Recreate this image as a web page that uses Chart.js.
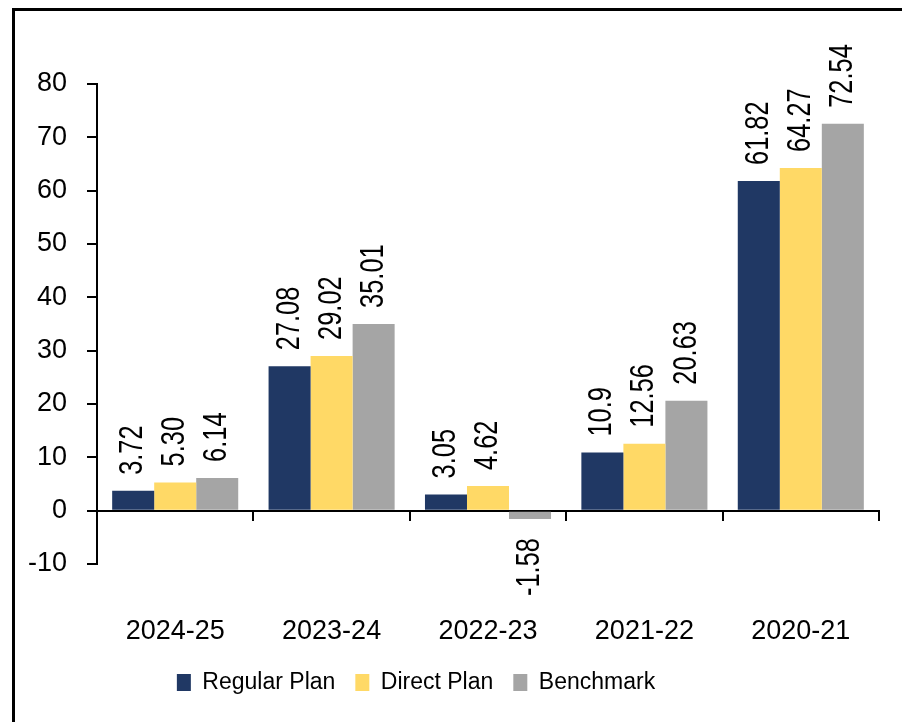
<!DOCTYPE html>
<html>
<head>
<meta charset="utf-8">
<script src="https://cdn.jsdelivr.net/npm/chart.js@4"></script>
<style>
  body { margin: 0; background: #fff; }
  #wrap { position: relative; width: 902px; height: 722px; overflow: hidden; }
  #frame { position: absolute; left: 12px; top: 8px; width: 1000px; height: 1000px;
           border-left: 3px solid #000; border-top: 3px solid #000; }
  canvas { position: absolute; left: 0; top: 0; }
</style>
</head>
<body>
<div id="wrap">
  <div id="frame"></div>
  <canvas id="perfChart" width="902" height="722"></canvas>
</div>
<script>
const categories = ["2024-25", "2023-24", "2022-23", "2021-22", "2020-21"];
const regularPlan = [3.72, 27.08, 3.05, 10.9, 61.82];
const directPlan = [5.30, 29.02, 4.62, 12.56, 64.27];
const benchmark = [6.14, 35.01, -1.58, 20.63, 72.54];
const regularText = ["3.72", "27.08", "3.05", "10.9", "61.82"];
const directText = ["5.30", "29.02", "4.62", "12.56", "64.27"];
const benchmarkText = ["6.14", "35.01", "-1.58", "20.63", "72.54"];
const yMin = -10, yMax = 80, yStep = 10;

const fontFamily = "'Liberation Sans', Arial, sans-serif";
Chart.defaults.color = "#000";
Chart.defaults.font.family = fontFamily;

// rotated value labels above (or below) each bar, squeezed to look like a narrow face
const barLabels = {
  id: "barLabels",
  afterDatasetsDraw(chart) {
    const ctx = chart.ctx;
    ctx.save();
    ctx.font = "33px " + fontFamily;
    ctx.fillStyle = "#000";
    ctx.textBaseline = "middle";
    chart.data.datasets.forEach((ds, i) => {
      chart.getDatasetMeta(i).data.forEach((bar, j) => {
        ctx.save();
        if (ds.data[j] >= 0) {
          ctx.translate(bar.x, bar.y - 16);
          ctx.textAlign = "left";
        } else {
          ctx.translate(bar.x, bar.y + 19);
          ctx.textAlign = "right";
        }
        ctx.rotate(-Math.PI / 2);
        ctx.scale(0.77, 1);
        ctx.fillText(ds.valueText[j], 0, 0);
        ctx.restore();
      });
    });
    ctx.restore();
  }
};

const ctx = document.getElementById("perfChart").getContext("2d");
new Chart(ctx, {
  type: "bar",
  data: {
    labels: categories,
    datasets: [
      { label: "Regular Plan", data: regularPlan, valueText: regularText, backgroundColor: "#203864" },
      { label: "Direct Plan", data: directPlan, valueText: directText, backgroundColor: "#FFD966" },
      { label: "Benchmark", data: benchmark, valueText: benchmarkText, backgroundColor: "#A5A5A5" }
    ]
  },
  options: {
    responsive: false,
    devicePixelRatio: 1,
    animation: false,
    categoryPercentage: 0.806,
    barPercentage: 1.0,
    layout: { padding: { top: 84, right: 23, bottom: 18, left: -47 } },
    plugins: {
      tooltip: { enabled: false },
      legend: {
        position: "bottom",
        labels: {
          boxWidth: 14,
          boxHeight: 17,
          padding: 20,
          font: { size: 23 }
        }
      }
    },
    scales: {
      x: {
        grid: { display: false },
        border: { display: false },
        ticks: { font: { size: 27 }, padding: 43, maxRotation: 0 },
        afterFit: s => { s.height = 87; }
      },
      x2: {
        type: "category",
        position: { y: 0 },
        offset: true,
        grid: { offset: true, drawOnChartArea: false, tickLength: 9, color: "#000", lineWidth: 2 },
        border: { color: "#000", width: 2 },
        ticks: { display: false }
      },
      y: {
        min: yMin,
        max: yMax,
        grid: { drawOnChartArea: false, tickLength: 10, color: "#000", lineWidth: 2 },
        border: { color: "#000", width: 2 },
        ticks: { stepSize: yStep, font: { size: 27 }, padding: 20 },
        afterFit: s => { s.width = 144; }
      }
    }
  },
  plugins: [barLabels]
});
</script>
</body>
</html>
